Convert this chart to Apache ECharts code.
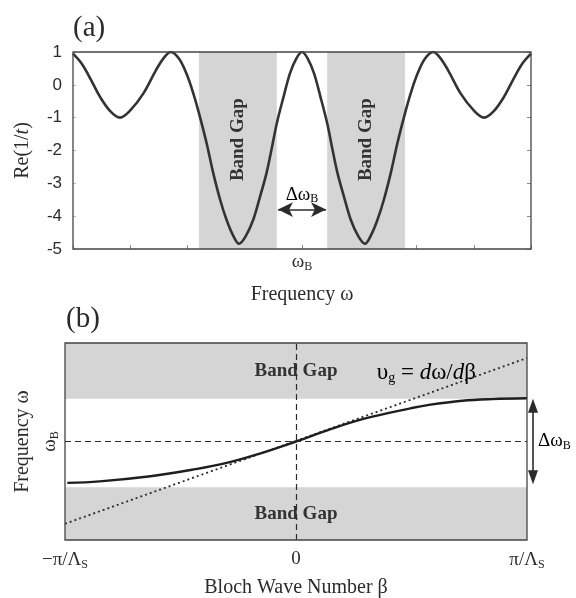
<!DOCTYPE html>
<html>
<head>
<meta charset="utf-8">
<script src="https://cdn.jsdelivr.net/npm/echarts@6/dist/echarts.min.js"></script>
<style>html,body{margin:0;padding:0;background:#fff;}#c{width:576px;height:598px;}</style>
</head>
<body>
<div id="c"></div>
<script>
// ---------- Panel (a): Re(1/t) vs frequency ----------
const freqX = [0.00,0.15,0.30,0.47,0.65,0.82,1.00,1.23,1.45,1.60,1.71,1.85,1.98,2.10,2.20,2.33,2.45,2.57,2.68,2.80,2.90,3.02,3.15,3.26,3.38,3.47,3.56,3.68,3.79,3.90,4.00,
               4.10,4.21,4.32,4.44,4.53,4.62,4.74,4.85,4.98,5.10,5.20,5.32,5.43,5.55,5.67,5.80,5.90,6.02,6.15,6.29,6.40,6.55,6.77,7.00,7.18,7.35,7.53,7.70,7.85,8.00];
const reInvT = [0.95,0.65,0.20,-0.36,-0.80,-1.00,-0.78,-0.26,0.45,0.85,1.00,0.80,0.35,-0.25,-0.86,-1.75,-2.69,-3.50,-4.10,-4.60,-4.84,-4.60,-4.10,-3.45,-2.69,-1.95,-1.17,-0.35,0.35,0.80,1.00,
                0.80,0.35,-0.35,-1.17,-1.95,-2.69,-3.45,-4.10,-4.60,-4.84,-4.60,-4.10,-3.50,-2.69,-1.75,-0.86,-0.25,0.35,0.80,1.00,0.85,0.45,-0.26,-0.78,-1.00,-0.80,-0.36,0.20,0.65,0.95];
const bandGapsA = [[2.20, 3.56], [4.44, 5.80]];
const omegaBA = 4;
const xTicksA = [0,1,2,3,4,5,6,7,8];
const yTicksA = [1,0,-1,-2,-3,-4,-5];
const deltaArrowYA = -3.80;

// ---------- Panel (b): dispersion ----------
const betaX = [-0.99,-0.85,-0.63,-0.45,-0.30,-0.15,0.00,0.15,0.30,0.50,0.57,0.72,0.85,1.00];
const omegaY = [-0.965,-0.93,-0.81,-0.66,-0.50,-0.27,0.00,0.29,0.54,0.78,0.85,0.95,0.99,1.01];
const groupBeta = [-1, 1];
const groupOmega = [-1.92, 1.95];
const upperGap = [1.0, 2.3];
const lowerGap = [-2.3, -1.07];
const betaTicks = [-1, 0, 1];
const betaTickLabels = ['{n|\u2212\u03c0/\u039b}{s|S}', '{n|0}', '{n|\u03c0/\u039b}{s|S}'];

const SERIF = '"Liberation Serif","Times New Roman",serif';
const SANS = '"Liberation Sans",Arial,sans-serif';
const INK = '#2b2b2b';
const GRAY = '#d5d5d5';

const zip = (a, b) => a.map((v, i) => [v, b[i]]);

const chart = echarts.init(document.getElementById('c'), null, {renderer: 'canvas'});

const subRich = {
  n: {fontFamily: SERIF, fontSize: 19, color: INK},
  w: {fontFamily: SERIF, fontSize: 19, color: INK},
  s: {fontFamily: SERIF, fontSize: 12, color: INK, padding: [9, 0, 0, 0]}
};

const option = {
  animation: false,
  backgroundColor: '#fff',
  grid: [
    {left: 73, top: 52, width: 458, height: 197, show: false, containLabel: false, outerBoundsMode: 'none'},
    {left: 65, top: 343, width: 462, height: 197, show: false, containLabel: false, outerBoundsMode: 'none'}
  ],
  xAxis: [
    {
      gridIndex: 0, type: 'value', min: xTicksA[0], max: xTicksA[xTicksA.length - 1], interval: 1,
      axisLine: {show: false, onZero: false},
      axisTick: {show: true, inside: true, length: 4, lineStyle: {color: '#888'}},
      splitLine: {show: false},
      axisLabel: {margin: 3, formatter: v => v === omegaBA ? '{w|\u03c9}{s|B}' : '', rich: subRich},
      name: 'Frequency \u03c9', nameLocation: 'middle', nameGap: 36,
      nameTextStyle: {fontFamily: SERIF, fontSize: 20, color: INK}
    },
    {
      gridIndex: 1, type: 'value', min: -1, max: 1, interval: 1,
      axisLine: {show: false, onZero: false},
      axisTick: {show: false},
      splitLine: {show: false},
      axisLabel: {margin: 10, formatter: v => betaTickLabels[betaTicks.indexOf(v)] || '', rich: subRich},
      name: 'Bloch Wave Number \u03b2', nameLocation: 'middle', nameGap: 38,
      nameTextStyle: {fontFamily: SERIF, fontSize: 20, color: INK}
    }
  ],
  yAxis: [
    {
      gridIndex: 0, type: 'value', min: yTicksA[yTicksA.length - 1], max: yTicksA[0], interval: 1,
      axisLine: {show: false, onZero: false},
      axisTick: {show: true, inside: true, length: 3, lineStyle: {color: '#bbb'}},
      splitLine: {show: false},
      axisLabel: {margin: 11, fontFamily: SANS, fontSize: 17, color: INK},
      name: '{n|Re(1/}{i|t}{n|)}', nameLocation: 'middle', nameGap: 40, nameRotate: 90,
      nameTextStyle: {rich: {n: {fontFamily: SERIF, fontSize: 20, color: INK}, i: {fontFamily: SERIF, fontSize: 20, fontStyle: 'italic', color: INK}}}
    },
    {
      gridIndex: 0, type: 'value', position: 'right', min: -5, max: 1, interval: 1,
      axisLine: {show: false, onZero: false},
      axisTick: {show: true, inside: true, length: 4, lineStyle: {color: '#888'}},
      axisLabel: {show: false}, splitLine: {show: false}
    },
    {
      gridIndex: 1, type: 'value', min: lowerGap[0], max: upperGap[1],
      axisLine: {show: false, onZero: false},
      axisTick: {show: false},
      splitLine: {show: false},
      axisLabel: {customValues: [0], rotate: 90, margin: 4, formatter: () => '{w|\u03c9}{s|B}', rich: subRich},
      name: 'Frequency \u03c9', nameLocation: 'middle', nameGap: 23, nameRotate: 90,
      nameTextStyle: {fontFamily: SERIF, fontSize: 20, color: INK}
    }
  ],
  series: [
    {
      type: 'line', xAxisIndex: 0, yAxisIndex: 0, data: zip(freqX, reInvT),
      smooth: 0.35, showSymbol: false, symbol: 'none', z: 5,
      lineStyle: {color: '#333', width: 2.6},
      markArea: {
        silent: true,
        itemStyle: {color: GRAY},
        data: bandGapsA.map(g => [{xAxis: g[0]}, {xAxis: g[1]}])
      },
      markLine: {
        silent: true, symbol: ['arrow', 'arrow'], symbolSize: [11, 15],
        lineStyle: {color: INK, width: 1.6, type: 'solid'},
        label: {show: false},
        data: [[{coord: [bandGapsA[0][1] + 0.02, deltaArrowYA]}, {coord: [bandGapsA[1][0] - 0.02, deltaArrowYA]}]]
      }
    },
    {
      type: 'line', xAxisIndex: 1, yAxisIndex: 2, data: zip(groupBeta, groupOmega),
      showSymbol: false, symbol: 'none', z: 4,
      lineStyle: {color: INK, width: 1.8, type: [2, 3]},
      markArea: {
        silent: true,
        itemStyle: {color: GRAY},
        label: {show: true, position: 'inside', formatter: 'Band Gap', fontFamily: SERIF, fontWeight: 'bold', fontSize: 19, color: '#333'},
        data: [
          [{yAxis: upperGap[0]}, {yAxis: upperGap[1]}],
          [{yAxis: lowerGap[0]}, {yAxis: lowerGap[1]}]
        ]
      },
      markLine: {
        silent: true, symbol: 'none', z: 10,
        lineStyle: {color: INK, width: 1.2, type: [6, 4]},
        label: {show: false},
        data: [{yAxis: 0}, {xAxis: 0}]
      }
    },
    {
      type: 'line', xAxisIndex: 1, yAxisIndex: 2, data: zip(betaX, omegaY),
      smooth: 0.4, showSymbol: false, symbol: 'none', z: 6,
      lineStyle: {color: '#1e1e1e', width: 2.4}
    }
  ]
};

chart.setOption(option);

function px(gridIndex, pt) { return chart.convertToPixel({gridIndex: gridIndex}, pt); }

const gA0 = px(0, [0, 1]);
const gA1 = px(0, [8, -5]);
const gB0 = px(1, [-1, upperGap[1]]);
const gB1 = px(1, [1, lowerGap[0]]);
const arrowTop = px(1, [1, upperGap[0]]);
const arrowBot = px(1, [1, -1.0]);
const arrowMid = px(1, [1, 0]);
const dA = px(0, [omegaBA, deltaArrowYA]);
const bg1 = px(0, [(bandGapsA[0][0] + bandGapsA[0][1]) / 2, -1.67]);
const bg2 = px(0, [(bandGapsA[1][0] + bandGapsA[1][1]) / 2, -1.67]);
const vg = px(1, [0.35, 1.6]);
const ax = arrowTop[0] + 6;

const graphic = [
  {type: 'rect', z: 120, shape: {x: gA0[0], y: gA0[1], width: gA1[0] - gA0[0], height: gA1[1] - gA0[1]}, style: {fill: null, stroke: '#444', lineWidth: 1.3}},
  {type: 'rect', z: 120, shape: {x: gB0[0], y: gB0[1], width: gB1[0] - gB0[0], height: gB1[1] - gB0[1]}, style: {fill: null, stroke: '#444', lineWidth: 1.3}},
  {type: 'text', z: 100, left: gA0[0], top: gA0[1] - 38, style: {text: '(a)', font: '29px ' + SERIF, fill: INK}},
  {type: 'text', z: 100, left: gB0[0] + 1, top: gB0[1] - 38, style: {text: '(b)', font: '29px ' + SERIF, fill: INK}},
  {type: 'text', z: 100, x: bg1[0], y: bg1[1], rotation: Math.PI / 2, style: {text: 'Band Gap', font: 'bold 19px ' + SERIF, fill: '#333', align: 'center', verticalAlign: 'middle'}},
  {type: 'text', z: 100, x: bg2[0], y: bg2[1], rotation: Math.PI / 2, style: {text: 'Band Gap', font: 'bold 19px ' + SERIF, fill: '#333', align: 'center', verticalAlign: 'middle'}},
  {type: 'text', z: 100, x: dA[0], y: dA[1] - 15, style: {
    text: '{n|\u0394\u03c9}{s|B}', align: 'center', verticalAlign: 'middle', rich: subRich}},
  {type: 'text', z: 100, x: vg[0], y: vg[1], style: {
    text: '{n|\u03c5}{s|g}{n| = }{i|d}{n|\u03c9/}{i|d}{n|\u03b2}', align: 'left', verticalAlign: 'middle',
    rich: {n: {fontFamily: SERIF, fontSize: 23, color: INK}, i: {fontFamily: SERIF, fontSize: 23, fontStyle: 'italic', color: INK}, s: {fontFamily: SERIF, fontSize: 14, color: INK, padding: [11, 0, 0, 0]}}}},
  {type: 'line', z: 100, shape: {x1: ax, y1: arrowTop[1] + 10, x2: ax, y2: arrowBot[1] - 10}, style: {stroke: INK, lineWidth: 1.6}},
  {type: 'polygon', z: 100, shape: {points: [[ax, arrowTop[1]], [ax - 5, arrowTop[1] + 14], [ax + 5, arrowTop[1] + 14]]}, style: {fill: INK}},
  {type: 'polygon', z: 100, shape: {points: [[ax, arrowBot[1]], [ax - 5, arrowBot[1] - 14], [ax + 5, arrowBot[1] - 14]]}, style: {fill: INK}},
  {type: 'text', z: 100, x: ax + 5, y: arrowMid[1], style: {text: '{n|\u0394\u03c9}{s|B}', align: 'left', verticalAlign: 'middle', rich: subRich}}
];

chart.setOption({graphic: graphic});
</script>
</body>
</html>
